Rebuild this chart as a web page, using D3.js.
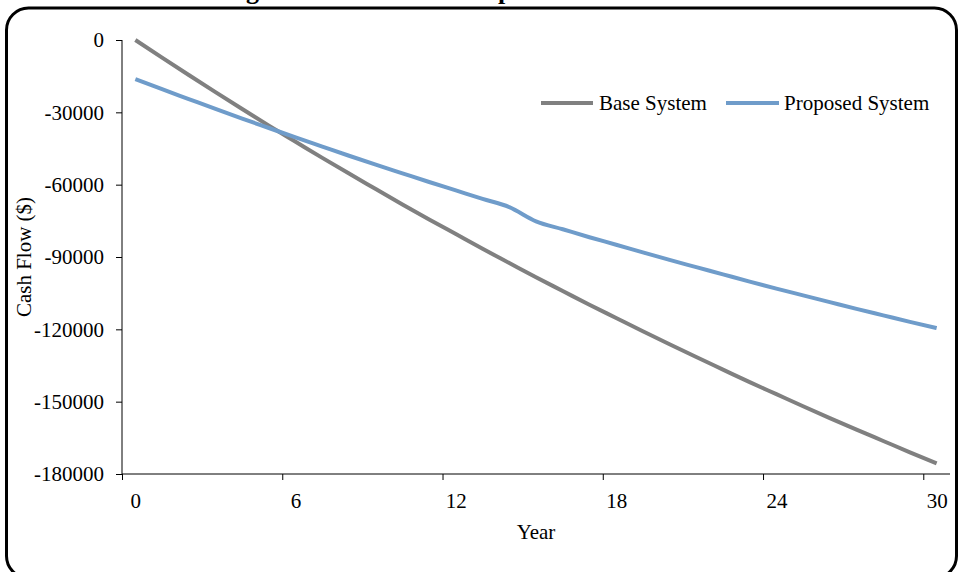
<!DOCTYPE html>
<html>
<head>
<meta charset="utf-8">
<script src="https://cdn.jsdelivr.net/npm/d3@7"></script>
<style>
  html, body { margin: 0; padding: 0; background: #fff; }
  svg { display: block; font-family: "Liberation Serif", "Times New Roman", serif; }
</style>
</head>
<body>
<svg id="chart" width="961" height="572"></svg>
<script>
const years = d3.range(0, 31);
const baseSystem = [0, -7300, -14500, -21600, -28600, -35500, -42200, -48900, -55400, -61800,
  -68200, -74400, -80500, -86600, -92500, -98400, -104100, -109800, -115300, -120800,
  -126200, -131500, -136700, -141900, -146900, -151900, -156800, -161600, -166300, -171000, -175600];
const proposedSystem = [-16200, -20400, -24500, -28600, -32600, -36500, -40400, -44200, -48000, -51700,
  -55300, -58900, -62400, -65900, -69300, -75200, -78500, -81800, -84900, -88100,
  -91200, -94200, -97200, -100200, -103100, -105900, -108700, -111500, -114200, -116900, -119500];
const seriesNames = ["Base System", "Proposed System"];
const seriesColors = ["#808080", "#6f9cca"];
const yTicks = [0, -30000, -60000, -90000, -120000, -150000, -180000];
const xTickLabels = [0, 6, 12, 18, 24, 30];
const titleText = "Cumulative Cash Flow Diagram for Base and Proposed";

const FS = 21;
const svg = d3.select("#chart");

// outer rounded frame
svg.append("rect")
  .attr("x", 6.5).attr("y", 8).attr("width", 950).attr("height", 570)
  .attr("rx", 22).attr("ry", 22)
  .attr("fill", "#fff").attr("stroke", "#000").attr("stroke-width", 3);

// title (only its descenders show at the top edge, as in the reference)
const title = svg.append("text")
  .attr("x", 0).attr("y", 0)
  .attr("font-weight", "bold")
  .attr("font-size", 22)
  .text(titleText);
(function placeTitle() {
  const node = title.node();
  const gi = titleText.indexOf("g");
  const pi = titleText.indexOf("p", titleText.indexOf("Pro"));
  const g0 = node.getStartPositionOfChar(gi).x;
  const p0 = node.getStartPositionOfChar(pi).x;
  const scale = (502 - 250) / (p0 - g0);
  const fs = 22 * scale;
  title.attr("font-size", fs);
  const g1 = node.getStartPositionOfChar(gi).x;
  title.attr("x", 246 - g1).attr("y", -0.3 * fs * 0.0 - 1);
})();

const pLeft = 122, pRight = 950, pTop = 40, pBottom = 474;
const x = d3.scaleLinear().domain([-0.5, 30.5]).range([pLeft, pRight]);
const y = d3.scaleLinear().domain([-180000, 0]).range([pBottom, pTop]);

// Y axis
const yAxis = svg.append("g").attr("transform", `translate(${pLeft},0)`)
  .call(d3.axisLeft(y).tickValues(yTicks).tickSize(6).tickPadding(12).tickFormat(d => String(d)));
yAxis.select(".domain").attr("stroke", "#000").attr("d", `M0,${pTop}V${pBottom}`);

// X axis tick marks at category boundaries
const xTickMarks = xTickLabels.map(v => v - 0.5);
const xAxisMarks = svg.append("g").attr("transform", `translate(0,${pBottom})`)
  .call(d3.axisBottom(x).tickValues(xTickMarks).tickSize(6).tickFormat(""));
xAxisMarks.select(".domain").attr("d", `M${pLeft},0H${pRight}`);
// X labels at category centres
const xAxisLabels = svg.append("g").attr("transform", `translate(0,${pBottom})`)
  .call(d3.axisBottom(x).tickValues(xTickLabels).tickSize(0).tickPadding(19));
xAxisLabels.select(".domain").remove();

svg.selectAll(".tick text").attr("font-size", FS).attr("fill", "#000")
  .attr("font-family", "'Liberation Serif', 'Times New Roman', serif");
svg.selectAll(".tick line").attr("stroke", "#000");

// axis titles
svg.append("text").attr("x", 536).attr("y", 539).attr("text-anchor", "middle")
  .attr("font-size", FS).text("Year");
svg.append("text").attr("transform", "translate(31,257) rotate(-90)")
  .attr("text-anchor", "middle").attr("font-size", FS).text("Cash Flow ($)");

// lines
const line = d3.line().x((d, i) => x(years[i])).y(d => y(d)).curve(d3.curveMonotoneX);
[baseSystem, proposedSystem].forEach((s, k) => {
  svg.append("path").datum(s).attr("d", line)
    .attr("fill", "none").attr("stroke", seriesColors[k])
    .attr("stroke-width", 4).attr("stroke-linejoin", "round");
});

// legend
const legendItems = [
  { name: seriesNames[0], color: seriesColors[0], x1: 541, x2: 593, tx: 599 },
  { name: seriesNames[1], color: seriesColors[1], x1: 726, x2: 779, tx: 784 }
];
legendItems.forEach(it => {
  svg.append("line").attr("x1", it.x1).attr("x2", it.x2).attr("y1", 103).attr("y2", 103)
    .attr("stroke", it.color).attr("stroke-width", 4);
  svg.append("text").attr("x", it.tx).attr("y", 110).attr("font-size", FS).text(it.name);
});
</script>
</body>
</html>
